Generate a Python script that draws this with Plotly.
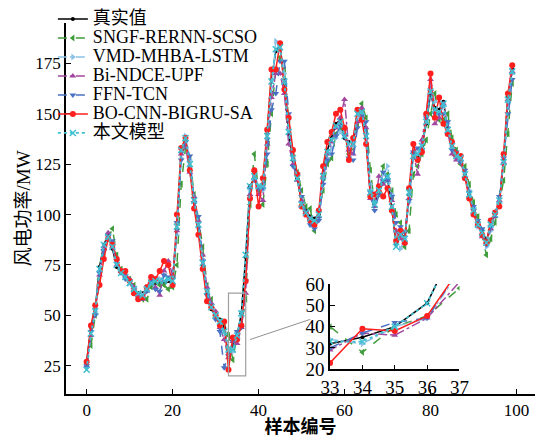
import plotly.graph_objects as go

x_idx = list(range(100))

real = [27, 44, 53, 74, 85, 90, 83, 74, 71, 69,
        67, 63, 61, 61, 63, 66, 66, 66, 66, 67,
        66, 93, 131, 137, 124, 108, 94, 75, 61, 53,
        50, 48, 44, 32, 35, 40, 51, 79, 114, 118,
        113, 115, 140, 167, 181, 184, 165, 140, 127, 118,
        106, 102, 99, 98, 100, 120, 132, 138, 145, 147,
        138, 136, 136, 151, 152, 138, 110, 106, 111, 116,
        118, 103, 85, 90, 89, 110, 130, 129, 134, 145,
        160, 153, 152, 156, 143, 135, 129, 128, 120, 110,
        102, 96, 92, 87, 95, 100, 106, 127, 158, 172]

sngf = [26, 35, 50, 68, 80, 88, 93, 80, 73, 70,
        68, 65, 60, 58, 58, 64, 67, 65, 65, 63,
        64, 75, 115, 133, 128, 110, 98, 84, 65, 58,
        50, 47, 46, 40, 28, 40, 45, 58, 105, 130,
        112, 105, 125, 150, 172, 178, 172, 147, 130, 121,
        112, 104, 103, 92, 101, 112, 125, 128, 140, 142,
        143, 130, 133, 145, 155, 148, 122, 105, 110, 124,
        120, 112, 100, 96, 84, 92, 120, 124, 130, 137,
        150, 160, 147, 147, 150, 138, 132, 125, 124, 115,
        106, 99, 90, 80, 88, 96, 105, 117, 140, 165]

vmd = [24, 42, 52, 72, 84, 88, 86, 76, 72, 70,
       66, 62, 59, 60, 64, 66, 68, 68, 70, 68,
       68, 90, 128, 139, 127, 107, 96, 78, 63, 55,
       49, 47, 42, 34, 32, 40, 44, 66, 112, 120,
       114, 112, 138, 163, 186, 182, 170, 143, 128, 120,
       108, 100, 95, 95, 98, 115, 128, 133, 138, 141,
       140, 132, 134, 148, 150, 140, 115, 104, 112, 120,
       124, 110, 90, 83, 88, 106, 128, 130, 136, 146,
       164, 156, 150, 154, 145, 133, 128, 127, 121, 112,
       101, 94, 90, 84, 92, 99, 108, 125, 155, 170]

bindce = [25, 40, 51, 70, 83, 91, 84, 75, 72, 70,
          68, 64, 60, 58, 62, 66, 64, 60, 72, 77,
          70, 92, 130, 134, 121, 109, 97, 80, 64, 56,
          52, 44, 38, 29, 37, 36, 44, 61, 110, 122,
          110, 107, 135, 158, 170, 170, 160, 135, 125, 117,
          107, 101, 98, 96, 99, 119, 130, 136, 143, 148,
          157, 132, 130, 146, 153, 143, 108, 104, 119, 115,
          117, 107, 92, 88, 86, 108, 131, 120, 137, 150,
          167, 145, 148, 155, 141, 130, 127, 126, 119, 109,
          103, 95, 89, 86, 93, 99, 107, 126, 157, 171]

ffn = [25, 42, 50, 71, 82, 89, 87, 77, 71, 68,
       67, 62, 58, 59, 62, 67, 63, 62, 70, 69,
       68, 96, 127, 136, 129, 106, 99, 77, 60, 55,
       48, 42, 24, 30, 37, 42, 44, 67, 113, 117,
       113, 113, 130, 152, 160, 176, 176, 150, 124, 120,
       109, 101, 95, 93, 97, 115, 127, 130, 139, 144,
       139, 128, 127, 143, 149, 146, 111, 102, 110, 121,
       117, 109, 96, 94, 91, 107, 131, 133, 132, 148,
       161, 150, 150, 150, 146, 132, 131, 126, 122, 111,
       104, 97, 93, 85, 94, 100, 109, 128, 150, 167]

bocnn = [27, 45, 55, 65, 78, 88, 85, 78, 72, 72,
         67, 61, 58, 59, 64, 69, 68, 72, 77, 75,
         65, 100, 133, 138, 122, 103, 90, 73, 57, 54,
         50, 45, 47, 23, 39, 38, 45, 67, 108, 122,
         104, 118, 142, 172, 172, 185, 162, 148, 132, 120,
         104, 100, 97, 95, 102, 124, 136, 141, 150, 152,
         143, 127, 138, 152, 147, 135, 109, 110, 114, 109,
         113, 102, 87, 92, 86, 113, 135, 127, 131, 150,
         170, 148, 158, 145, 140, 136, 130, 129, 118, 108,
         100, 95, 90, 86, 97, 101, 104, 130, 160, 174]

ours = [23, 41, 52, 73, 85, 89, 84, 75, 71, 69,
        66, 63, 61, 60, 63, 66, 67, 67, 67, 68,
        67, 94, 132, 138, 125, 107, 95, 76, 62, 54,
        50, 47, 42, 33, 33, 40, 51, 80, 114, 119,
        114, 114, 139, 166, 182, 183, 166, 141, 128, 118,
        105, 101, 98, 97, 100, 119, 131, 137, 144, 146,
        139, 135, 135, 150, 151, 139, 111, 105, 112, 117,
        119, 104, 84, 90, 88, 111, 129, 130, 134, 146,
        161, 152, 151, 155, 142, 134, 129, 128, 120, 110,
        102, 95, 91, 86, 95, 100, 107, 126, 157, 171]

names = ["真实值", "SNGF-RERNN-SCSO", "VMD-MHBA-LSTM", "Bi-NDCE-UPF",
         "FFN-TCN", "BO-CNN-BIGRU-SA", "本文模型"]
series = [real, sngf, vmd, bindce, ffn, bocnn, ours]

x_ticks = [0, 20, 40, 60, 80, 100]
y_ticks = [25, 50, 75, 100, 125, 150, 175]
inset_xticks = [33, 34, 35, 36, 37]
inset_yticks = [20, 30, 40, 50, 60]

styles = [
    dict(color="#000000", dash="solid", symbol="circle", size=4, width=1.5),
    dict(color="#3f9c3a", dash="dash", symbol="triangle-left", size=6, width=1.5),
    dict(color="#8cc3e6", dash="dashdot", symbol="triangle-right", size=6, width=1.5),
    dict(color="#a2479f", dash="dashdot", symbol="triangle-up", size=6, width=1.5),
    dict(color="#4a72c4", dash="dash", symbol="triangle-down", size=6, width=1.5),
    dict(color="#ff1f1f", dash="solid", symbol="circle", size=6, width=1.5),
    dict(color="#3ec0d2", dash="dot", symbol="x-thin-open", size=6, width=1.8),
]

FONT = "Liberation Serif, Times New Roman, Noto Sans CJK SC"

fig = go.Figure()
for nm, ys, st in zip(names, series, styles):
    mk = dict(color=st["color"], size=st["size"], symbol=st["symbol"])
    if st["symbol"].endswith("open"):
        mk["line"] = dict(color=st["color"], width=1.5)
    fig.add_trace(go.Scatter(
        x=x_idx, y=ys, mode="lines+markers",
        name=f'<span style="font-size:18px">{nm}</span>',
        line=dict(color=st["color"], dash=st["dash"], width=st["width"]),
        marker=mk, xaxis="x", yaxis="y"))

# inset (zoom of samples 33-37)
lo, hi = inset_xticks[0] - 1, inset_xticks[-1] + 1
for nm, ys, st in zip(names, series, styles):
    mk = dict(color=st["color"], size=st["size"], symbol=st["symbol"])
    if st["symbol"].endswith("open"):
        mk["line"] = dict(color=st["color"], width=1.5)
    fig.add_trace(go.Scatter(
        x=x_idx[lo:hi + 1], y=ys[lo:hi + 1], mode="lines+markers",
        showlegend=False,
        line=dict(color=st["color"], dash=st["dash"], width=st["width"]),
        marker=mk, xaxis="x2", yaxis="y2"))

axis_common = dict(showline=True, linecolor="black", linewidth=1.5,
                   ticks="inside", ticklen=5, tickcolor="black", tickwidth=1.2,
                   showgrid=False, zeroline=False, mirror=False,
                   automargin=False)

fig.update_layout(
    width=537, height=429,
    margin=dict(l=58, r=10, t=15, b=43, autoexpand=False),
    paper_bgcolor="white", plot_bgcolor="rgba(0,0,0,0)",
    font=dict(family=FONT, size=17, color="black"),
    xaxis=dict(domain=[0, 1], range=[-4.8, 104.3], tickvals=x_ticks,
               title=dict(text="<b>样本编号</b>", font=dict(size=18), standoff=2),
               **axis_common),
    yaxis=dict(domain=[0, 1], range=[11, 195], tickvals=y_ticks,
               title=dict(text="风电功率/MW", font=dict(size=19), standoff=0),
               **axis_common),
    xaxis2=dict(domain=[0.563, 0.839], anchor="y2", range=[33, 37],
                tickvals=inset_xticks, tickfont=dict(size=19), **axis_common),
    yaxis2=dict(domain=[0.0666, 0.2965], anchor="x2", range=[20, 60],
                tickvals=inset_yticks, tickfont=dict(size=19), **axis_common),
    legend=dict(x=-0.028, y=1.05, xanchor="left", yanchor="top",
                bgcolor="rgba(0,0,0,0)", font=dict(size=12), tracegroupgap=0,
                itemwidth=30),
    showlegend=True,
)

# zoom rectangle and connector
fig.add_shape(type="rect", xref="x", yref="y",
              x0=inset_xticks[0], x1=inset_xticks[-1],
              y0=inset_yticks[0], y1=61,
              line=dict(color="#a0a0a0", width=1.2))
fig.add_shape(type="line", xref="x", yref="y",
              x0=38, y0=38, x1=52, y1=48,
              line=dict(color="#909090", width=1))

fig.write_html("out.html")
